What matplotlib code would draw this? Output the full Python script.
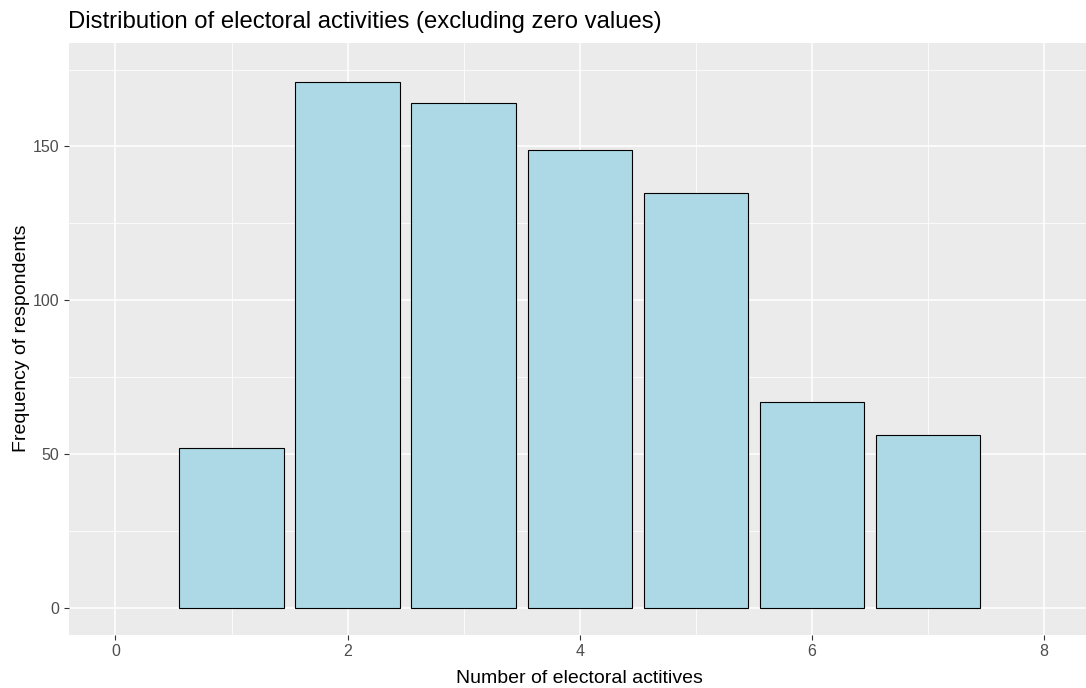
import matplotlib
matplotlib.use("Agg")
import matplotlib.pyplot as plt
from matplotlib.ticker import MultipleLocator

plt.rcParams['font.family'] = ['Liberation Sans', 'DejaVu Sans']

activities = [1, 2, 3, 4, 5, 6, 7]
respondents = [52, 171, 164, 149, 135, 67, 56]
x_ticks = [0, 2, 4, 6, 8]
y_ticks = [0, 50, 100, 150]

W, H = 1086, 688
fig = plt.figure(figsize=(W / 100, H / 100), dpi=100)
left, right, top, bottom = 69, 1090.6, 42.7, 634.5
ax = fig.add_axes([left / W, 1 - bottom / H, (right - left) / W, (bottom - top) / H])

ax.set_facecolor('#EBEBEB')
for s in ax.spines.values():
    s.set_visible(False)

ax.set_xlim(-0.4, 8.4)
ax.set_ylim(-8.75, 183.75)
ax.set_xticks(x_ticks)
ax.set_yticks(y_ticks)
ax.xaxis.set_minor_locator(MultipleLocator(1))
ax.yaxis.set_minor_locator(MultipleLocator(25))
ax.grid(which='major', color='white', linewidth=1.1)
ax.grid(which='minor', color='white', linewidth=0.55)
ax.set_axisbelow(True)

ax.bar(activities, respondents, width=0.9, color='#ADD8E6', edgecolor='black',
       linewidth=0.8, zorder=3)

ax.tick_params(which='major', length=3.5, width=0.8, color='#333333',
               labelcolor='#4D4D4D', labelsize=11.5, pad=3.5)
ax.tick_params(which='minor', length=0)

ax.set_xlabel('Number of electoral actitives', fontsize=14, color='black', labelpad=8)
ax.set_ylabel('Frequency of respondents', fontsize=14, color='black', labelpad=2)

fig.text(68 / W, 1 - 22 / H, 'Distribution of electoral activities (excluding zero values)',
         fontsize=17.2, color='black', ha='left', va='center')

fig.savefig('out.png', dpi=100)
